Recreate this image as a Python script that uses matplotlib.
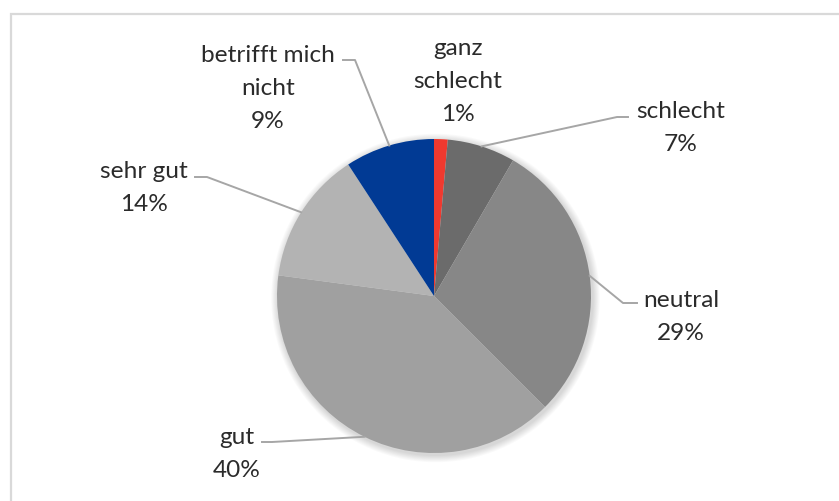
import numpy as np
import matplotlib.pyplot as plt
from matplotlib.patches import Circle

# Antworten (im Uhrzeigersinn ab 12 Uhr)
categories = ["ganz\nschlecht", "schlecht", "neutral", "gut", "sehr gut", "betrifft mich\nnicht"]
shares = [1.4, 7.0, 29.1, 39.6, 13.7, 9.2]
colors = ["#f0392f", "#6b6b6b", "#878787", "#a0a0a0", "#b3b3b3", "#013a94"]

W, H = 839, 501
fig = plt.figure(figsize=(W / 100, H / 100), dpi=100)
ax = fig.add_axes([0, 0, 1, 1])

def px(x, y):
    # pixel (von oben) -> Datenkoordinaten
    return x, H - y

# Rahmen des Diagramms
ax.plot([11, 11, W + 5], [-5, H - 14, H - 14], color="#d9d9d9", lw=1.6,
        solid_joinstyle="miter")

cx, cy = px(434, 296)
r = 157

# weicher Schatten hinter der Torte
for k in range(8):
    ax.add_patch(Circle((cx + 1.5, cy - 2), r + 1 + k * 0.9, color="black",
                        alpha=0.02, lw=0, zorder=1))

wedges, _ = ax.pie(shares, colors=colors, startangle=90, counterclock=False,
                   center=(cx, cy), radius=r, frame=True,
                   wedgeprops=dict(linewidth=0, zorder=2))
ax.set_xlim(0, W)
ax.set_ylim(0, H)
ax.axis("off")

labels = [f"{c}\n{v:.0f}%" for c, v in zip(categories, shares)]

# Beschriftung: Mitte x und Grundlinie der ersten Zeile, in Pixeln
text_pos = [(458, 55), (681, 118), (681, 307), (237, 444), (144, 178), (268, 62)]
line_step = 33
# Knickpunkt und Ende der Führungslinie
elbows = [None, ((617, 117), (628, 117)), ((623, 303), (637, 303)),
          ((272, 442), (262, 442)), ((207, 177), (195, 177)),
          ((355, 60), (343, 60))]

for w, lab, tp, el in zip(wedges, labels, text_pos, elbows):
    for i, line in enumerate(lab.split("\n")):
        ax.text(*px(tp[0], tp[1] + i * line_step), line, ha="center",
                va="baseline", fontsize=17.6, family="Lato",
                color="#2b2b2b", zorder=5)
    if el is None:
        continue
    mid = np.deg2rad((w.theta1 + w.theta2) / 2)
    sx, sy = cx + r * np.cos(mid), cy + r * np.sin(mid)
    (ex, ey), (tx, ty) = el
    ex, ey = px(ex, ey)
    tx, ty = px(tx, ty)
    ax.plot([sx, ex, tx], [sy, ey, ty], color="#a6a6a6", lw=1.4, zorder=4)

fig.savefig("out.png", dpi=100, facecolor="white")
